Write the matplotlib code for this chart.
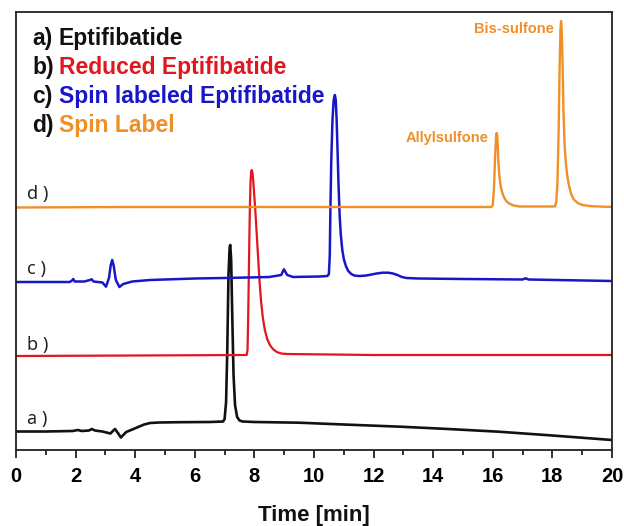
import matplotlib
matplotlib.use("Agg")
import matplotlib.pyplot as plt
from matplotlib.ticker import MultipleLocator

# ---------------- data (time in min, signal in arbitrary offset units) ----------------
t_a = [0, 1.0, 1.9, 2.08, 2.2, 2.45, 2.54, 2.65, 2.9, 3.1, 3.17, 3.25, 3.32, 3.42, 3.52,
       3.6, 3.7, 3.9, 4.1, 4.3, 4.5, 4.8, 5.5, 6.5, 6.95, 7.0, 7.05, 7.09, 7.13, 7.17, 7.19,
       7.22, 7.26, 7.30, 7.35, 7.42, 7.5, 7.6, 8.0, 9.5, 11, 12.9, 14.5, 16.2, 18, 20]
y_a = [18.5, 18.5, 19, 20, 19, 19.5, 21, 19.5, 18.5, 17, 16.5, 19, 21, 17, 12.5,
       15, 18, 20.5, 23, 25.5, 27, 27.5, 27.8, 28, 28.5, 31, 48, 100, 175, 203, 205,
       190, 130, 75, 45, 33, 29.5, 28.5, 28, 27.3, 25.5, 23.3, 21, 18.3, 14.5, 10]

t_b = [0, 4, 7.74, 7.77, 7.79, 7.81, 7.83, 7.85, 7.87, 7.89, 7.91, 7.93, 7.96, 7.99,
       8.03, 8.07, 8.12, 8.17, 8.22, 8.28, 8.35, 8.43, 8.52, 8.62, 8.75, 8.9, 9.1, 12, 20]
y_b = [94, 94.5, 95, 100, 130, 170, 210, 245, 268, 278, 280, 278, 270, 257,
       240, 220, 195, 170, 150, 133, 120, 111, 105, 101, 98, 96.5, 96, 95, 95]

t_c = [0, 1.8, 1.88, 1.92, 1.97, 2.3, 2.48, 2.54, 2.6, 2.9, 3.02, 3.12, 3.18, 3.23, 3.28,
       3.35, 3.47, 3.6, 3.9, 4.5, 6, 7, 8.5, 8.9, 8.99, 9.1, 9.3, 9.8, 10.2, 10.45, 10.50,
       10.53, 10.55, 10.58, 10.62, 10.66, 10.70, 10.73, 10.76, 10.79, 10.82, 10.86, 10.90,
       10.95, 11.0, 11.07, 11.15, 11.25, 11.35, 11.5, 11.7, 11.9, 12.1, 12.3, 12.5, 12.65,
       12.8, 12.95, 13.1, 13.5, 15, 17.0, 17.1, 17.2, 20]
y_c = [168, 168, 169.5, 171, 168.5, 168.5, 170, 170.7, 168.5, 167.5, 163.3, 172, 185, 190, 184,
       170, 163, 166, 168.5, 170, 171.5, 172, 173, 175, 180.7, 175, 173, 173.3, 173.5, 174, 176,
       195, 240, 290, 330, 350, 355, 350, 330, 300, 268, 235, 215,
       200, 191, 184, 179, 176, 174.5, 174, 174.3, 175.3, 176.5, 177.3, 177.3, 176.5,
       175, 173, 172, 171.5, 171, 170.5, 171.7, 170.5, 169]

t_d = [0, 4, 10, 15.95, 16.0, 16.04, 16.08, 16.11, 16.13, 16.15, 16.17, 16.19, 16.22, 16.26,
       16.31, 16.37, 16.45, 16.55, 16.7, 16.9, 18.08, 18.13, 18.17, 18.21, 18.24, 18.27,
       18.29, 18.31, 18.34, 18.37, 18.41, 18.45, 18.5, 18.56, 18.63, 18.72, 18.85, 19.0,
       19.3, 20]
y_d = [242.5, 243, 243, 243, 245, 262, 295, 313, 317, 314, 302, 287, 274, 265,
       258, 253, 249, 246.5, 244.5, 243.5, 243.5, 248, 268, 320, 380, 420,
       429, 422, 390, 340, 305, 287, 274, 264, 256, 250.5, 247, 245,
       243.8, 243]

legend_prefix = ["a)", "b)", "c)", "d)"]
legend_names = ["Eptifibatide", "Reduced Eptifibatide", "Spin labeled Eptifibatide", "Spin Label"]
trace_labels = ["a )", "b )", "c )", "d )"]
peak_names = ["Allylsulfone", "Bis-sulfone"]
x_label = "Time [min]"

# ---------------- styling ----------------
BLACK = "#111111"
RED = "#e3161e"
BLUE = "#1717c9"
ORANGE = "#f08f26"
colors = [BLACK, RED, BLUE, ORANGE]
BOLD = dict(family=["Liberation Sans", "DejaVu Sans"], weight="bold")

W, H = 624, 526
fig = plt.figure(figsize=(W / 100, H / 100), dpi=100)
ax = fig.add_axes([16 / W, 76 / H, 596 / W, 438 / H])

for t, y, c, lw in [(t_a, y_a, BLACK, 1.9), (t_b, y_b, RED, 1.6),
                    (t_c, y_c, BLUE, 1.8), (t_d, y_d, ORANGE, 1.7)]:
    ax.plot(t, y, color=c, lw=lw, solid_joinstyle="round")

ax.set_xlim(0, 20)
ax.set_ylim(0, 438)
ax.set_yticks([])
ax.xaxis.set_major_locator(MultipleLocator(2))
ax.xaxis.set_minor_locator(MultipleLocator(1))
ax.tick_params(axis="x", which="major", direction="out", length=6, width=1.3,
               color="#222222", pad=6)
ax.tick_params(axis="x", which="minor", direction="out", length=3.5, width=1.3,
               color="#222222")
for lab in ax.get_xticklabels():
    lab.set_fontsize(14.5)
    lab.set_fontfamily(BOLD["family"])
    lab.set_fontweight("bold")
for s in ax.spines.values():
    s.set_color("#222222")
    s.set_linewidth(1.3)

# x-axis title (placed in figure pixels so it sits just above the bottom edge)
fig.text(314 / W, 1 - 521 / H, x_label, fontsize=16, ha="center", va="baseline",
         color=BLACK, **BOLD)

# trace labels
label_pos = [(0.37, 26), (0.37, 100), (0.37, 176), (0.37, 251)]
for (x, y), txt in zip(label_pos, trace_labels):
    ax.text(x, y, txt, fontsize=13, color="#222222", va="baseline", ha="left",
            family=["Noto Sans", "DejaVu Sans"])

# peak annotations
ax.text(15.87, 308, peak_names[0], fontsize=10.5, color=ORANGE, ha="right",
        va="baseline", **BOLD)
ax.text(18.05, 417, peak_names[1], fontsize=10.5, color=ORANGE, ha="right",
        va="baseline", **BOLD)

# legend-like text block
baselines = [45, 73.5, 103, 132]
for pre, name, c, yb in zip(legend_prefix, legend_names, colors, baselines):
    fig.text(32 / W, 1 - yb / H, pre, fontsize=16.5, color=BLACK, va="baseline",
             ha="left", **BOLD)
    fig.text(59 / W, 1 - yb / H, name, fontsize=16.5, color=c, va="baseline",
             ha="left", **BOLD)

fig.savefig("out.png", dpi=100)
